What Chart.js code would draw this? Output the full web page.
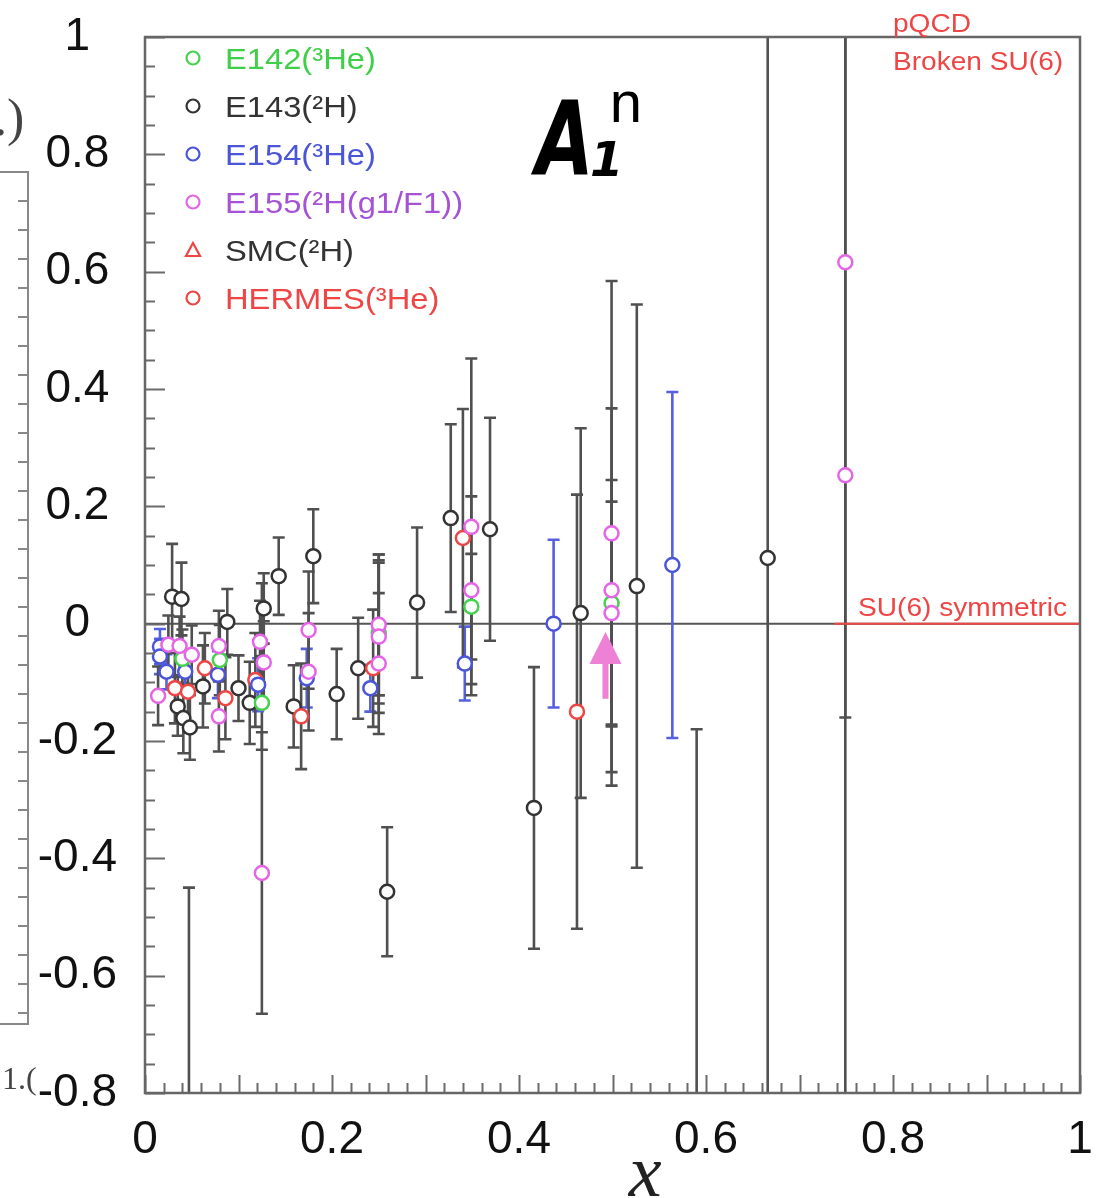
<!DOCTYPE html>
<html>
<head>
<meta charset="utf-8">
<script src="https://cdn.jsdelivr.net/npm/chart.js@4.4.1/dist/chart.umd.min.js"></script>
<style>
  html, body { margin: 0; padding: 0; background: #fff; }
  #wrap { position: relative; width: 1100px; height: 1198px; overflow: hidden; }
  #a1n { position: absolute; left: 0; top: 0; }
  /* neighbouring panel edge on the left */
  .side-box {
    position: absolute; left: -3px; top: 171px; width: 28px; height: 850px;
    border: 2px solid #888;
    background: repeating-linear-gradient(to bottom, transparent 0 27px, #888 27px 29px) right top / 9px 100% no-repeat;
  }
  .side-text { position: absolute; font-family: "Liberation Serif", serif; color: #444; }
</style>
</head>
<body>
<div id="wrap">
  <canvas id="a1n" width="1100" height="1198"></canvas>
  <div class="side-box"></div>
  <div class="side-text" style="left:-6px; top:88px; font-size:52px;">.)</div>
  <div class="side-text" style="left:2px; top:1060px; font-size:32px;">1.(</div>
</div>
<script>
// --- Data: A1 neutron world data (x, value, error) ---
const xE142 = [0.040, 0.080, 0.125, 0.250, 0.349, 0.499];
const yE142 = [-0.060, -0.062, -0.135, -0.016, 0.029, 0.035];
const eE142 = [0.050, 0.060, 0.080, 0.120, 0.090, 0.210];

const xE143 = [0.029, 0.039, 0.035, 0.041, 0.048, 0.062, 0.088, 0.100, 0.112, 0.127, 0.143, 0.159,
               0.180, 0.205, 0.228, 0.259, 0.291, 0.327, 0.369, 0.416, 0.466, 0.526, 0.666, 0.047, 0.590];
const yE143 = [0.046, 0.042, -0.141, -0.161, -0.177, -0.107, 0.003, -0.110, -0.135, 0.026, 0.081, -0.141,
               0.115, -0.120, -0.076, -0.457, 0.036, 0.180, 0.161, -0.314, 0.018, 0.064, 0.112, -1.200, -1.200];
const eE143 = [0.090, 0.062, 0.050, 0.060, 0.055, 0.070, 0.056, 0.056, 0.070, 0.060, 0.066, 0.070,
               0.080, 0.077, 0.086, 0.110, 0.128, 0.160, 0.190, 0.240, 0.315, 0.480, 1.300, 0.750, 1.020];

const xE154 = [0.016, 0.016, 0.023, 0.043, 0.078, 0.121, 0.173, 0.241, 0.342, 0.437, 0.564];
const yE154 = [-0.039, -0.056, -0.082, -0.082, -0.087, -0.104, -0.093, -0.110, -0.068, 0.000, 0.100];
const eE154 = [0.030, 0.030, 0.030, 0.035, 0.040, 0.045, 0.050, 0.040, 0.063, 0.143, 0.295];

const xE155 = [0.014, 0.025, 0.037, 0.050, 0.079, 0.079, 0.123, 0.127, 0.125, 0.175, 0.175,
               0.250, 0.250, 0.250, 0.349, 0.349, 0.499, 0.499, 0.499, 0.749, 0.749];
const yE155 = [-0.123, -0.036, -0.038, -0.053, -0.038, -0.158, -0.031, -0.066, -0.425, -0.011, -0.082,
               -0.002, -0.022, -0.068, 0.165, 0.057, 0.154, 0.057, 0.018, 0.616, 0.253];
const eE155 = [0.050, 0.050, 0.050, 0.050, 0.060, 0.060, 0.070, 0.070, 0.240, 0.100, 0.100,
               0.120, 0.130, 0.120, 0.287, 0.160, 0.430, 0.310, 0.190, 0.776, 1.200];

const xSMC = [0.125, 0.250];
const ySMC = [-0.031, -0.002];
const eSMC = [0.100, 0.120];

const xHERMES = [0.032, 0.046, 0.064, 0.086, 0.118, 0.167, 0.244, 0.340, 0.462];
const yHERMES = [-0.110, -0.116, -0.076, -0.127, -0.096, -0.158, -0.076, 0.146, -0.150];
const eHERMES = [0.060, 0.070, 0.060, 0.070, 0.080, 0.090, 0.100, 0.220, 0.370];

// model predictions
const su6X = [0.737, 1.0];
const su6Y = [0, 0];
const pqcdX = [0.85, 1.0];
const pqcdY = [1, 1];

// arrow marking the new measurement region
const arrowX = 0.4925;
const arrowTail = -0.128;
const arrowHead = -0.014;

const xTickValues = [0, 0.2, 0.4, 0.6, 0.8, 1];
const yTickValues = [-0.8, -0.6, -0.4, -0.2, 0, 0.2, 0.4, 0.6, 0.8, 1];

const RED = '#ee4545';
const FONT = '"Liberation Sans", Arial, sans-serif';

function toPoints(xs, ys) {
    return xs.map((x, i) => ({ x: x, y: ys[i] }));
}

function series(label, xs, ys, errs, color, opts) {
    return Object.assign({
        label: label,
        data: toPoints(xs, ys),
        errors: errs,
        errorColor: '#505050',
        borderColor: color,
        backgroundColor: '#fff',
        pointStyle: 'circle',
        pointRadius: 7,
        pointBorderWidth: 2.5,
        showLine: false
    }, opts || {});
}

const datasets = [
    series('E142(³He)', xE142, yE142, eE142, '#46d24e', { legendText: '#3fcf48', order: 2 }),
    series('E143(²H)', xE143, yE143, eE143, '#333', { legendText: '#333', order: 5 }),
    series('E154(³He)', xE154, yE154, eE154, '#4b55d8', { legendText: '#4b55d8', errorColor: '#5560e0', order: 3 }),
    series('E155(²H(g1/F1))', xE155, yE155, eE155, '#e466e6', { legendText: '#a552d6', order: 1 }),
    series('SMC(²H)', xSMC, ySMC, eSMC, RED, { legendText: '#333', pointStyle: 'triangle', pointRadius: 5, order: 6 }),
    series('HERMES(³He)', xHERMES, yHERMES, eHERMES, RED, { legendText: RED, order: 4 }),
    {
        label: 'SU(6) symmetric', data: toPoints(su6X, su6Y), showLine: true,
        borderColor: RED, borderWidth: 2, pointRadius: 0, order: 0
    },
    {
        label: 'pQCD', data: toPoints(pqcdX, pqcdY), showLine: true, clip: false,
        borderColor: RED, borderWidth: 2, pointRadius: 0, order: 0
    }
];

// error bars, zero line and arrow under the markers
const errorBars = {
    id: 'errorBars',
    beforeDatasetsDraw(chart) {
        const { ctx, chartArea: a, scales: { x, y } } = chart;
        ctx.save();
        ctx.beginPath();
        ctx.rect(a.left, a.top, a.width, a.height);
        ctx.clip();

        ctx.strokeStyle = '#555';
        ctx.lineWidth = 2;
        ctx.beginPath();
        ctx.moveTo(a.left, y.getPixelForValue(0));
        ctx.lineTo(a.right, y.getPixelForValue(0));
        ctx.stroke();

        ctx.lineWidth = 2.6;
        chart.data.datasets.forEach(ds => {
            if (!ds.errors) return;
            ctx.strokeStyle = ds.errorColor;
            ds.data.forEach((p, i) => {
                const px = x.getPixelForValue(p.x);
                const lo = y.getPixelForValue(p.y - ds.errors[i]);
                const hi = y.getPixelForValue(p.y + ds.errors[i]);
                ctx.beginPath();
                ctx.moveTo(px, lo); ctx.lineTo(px, hi);
                ctx.moveTo(px - 6, lo); ctx.lineTo(px + 6, lo);
                ctx.moveTo(px - 6, hi); ctx.lineTo(px + 6, hi);
                ctx.stroke();
            });
        });

        // pink arrow
        const ax = x.getPixelForValue(arrowX);
        const tip = y.getPixelForValue(arrowHead);
        const tail = y.getPixelForValue(arrowTail);
        ctx.fillStyle = '#ee80d6';
        ctx.fillRect(ax - 3, tip + 28, 6, tail - tip - 28);
        ctx.beginPath();
        ctx.moveTo(ax, tip);
        ctx.lineTo(ax - 16, tip + 32);
        ctx.lineTo(ax + 16, tip + 32);
        ctx.closePath();
        ctx.fill();
        ctx.restore();
    }
};

// frame with inward ticks, legend and labels
const frameAndText = {
    id: 'frameAndText',
    afterDatasetsDraw(chart) {
        const { ctx, chartArea: a, scales: { x, y } } = chart;
        ctx.save();
        ctx.strokeStyle = '#6a6a6a';
        ctx.lineWidth = 2;
        ctx.beginPath();
        for (let k = 0; k <= 36; k++) {
            const py = Math.round(y.getPixelForValue(-0.8 + k * 0.05)) + 0.5;
            const len = k % 4 === 0 ? 20 : 10;
            ctx.moveTo(a.left, py); ctx.lineTo(a.left + len, py);
        }
        for (let k = 0; k <= 50; k++) {
            const px = Math.round(x.getPixelForValue(k * 0.02)) + 0.5;
            const len = k % 5 === 0 ? 18 : 10;
            ctx.moveTo(px, a.bottom); ctx.lineTo(px, a.bottom - len);
        }
        ctx.stroke();
        ctx.lineWidth = 2.5;
        ctx.strokeStyle = '#666';
        ctx.strokeRect(a.left, a.top, a.width, a.height);
        ctx.restore();
    },
    afterDraw(chart) {
        const { ctx, chartArea: a, scales: { x, y } } = chart;
        ctx.save();

        // legend
        let row = 0;
        chart.data.datasets.forEach(ds => {
            if (!ds.errors) return;
            const cy = a.top + 21 + row * 48;
            const cx = a.left + 48;
            ctx.strokeStyle = ds.borderColor;
            ctx.lineWidth = 2.2;
            ctx.beginPath();
            if (ds.pointStyle === 'triangle') {
                ctx.moveTo(cx, cy - 7); ctx.lineTo(cx - 7, cy + 6); ctx.lineTo(cx + 7, cy + 6); ctx.closePath();
            } else {
                ctx.arc(cx, cy, 6.5, 0, Math.PI * 2);
            }
            ctx.stroke();
            ctx.save();
            ctx.translate(a.left + 80, cy + 11);
            ctx.scale(1.09, 1);
            ctx.font = '30px ' + FONT;
            ctx.fillStyle = ds.legendText;
            ctx.fillText(ds.label, 0, 0);
            ctx.restore();
            row++;
        });

        // model labels
        const txt = (s, vx, vy) => {
            ctx.save();
            ctx.translate(x.getPixelForValue(vx), y.getPixelForValue(vy));
            ctx.scale(1.08, 1);
            ctx.fillText(s, 0, 0);
            ctx.restore();
        };
        ctx.font = '26px ' + FONT;
        ctx.fillStyle = RED;
        txt('pQCD', 0.8, 1.0085);
        txt('Broken SU(6)', 0.8, 0.944);
        txt('SU(6) symmetric', 0.7626, 0.013);

        // A1^n
        ctx.fillStyle = '#000';
        ctx.save();
        ctx.translate(x.getPixelForValue(0.418), y.getPixelForValue(0.765));
        ctx.scale(0.72, 1);
        ctx.font = 'italic bold 104px "DejaVu Sans", sans-serif';
        ctx.fillText('A', 0, 0);
        ctx.restore();
        ctx.font = 'italic bold 48px "DejaVu Sans", sans-serif';
        ctx.fillText('1', x.getPixelForValue(0.476), y.getPixelForValue(0.763));
        ctx.font = '58px ' + FONT;
        ctx.fillText('n', x.getPixelForValue(0.497), y.getPixelForValue(0.855));

        // axis title
        ctx.font = 'italic 74px "Liberation Serif", serif';
        ctx.fillStyle = '#222';
        ctx.textAlign = 'center';
        ctx.fillText('x', x.getPixelForValue(0.535), 1196);
        ctx.restore();
    }
};

const fmt = v => String(Math.round(v * 10) / 10);

const ctx = document.getElementById('a1n').getContext('2d');

new Chart(ctx, {
    type: 'scatter',
    data: { datasets: datasets },
    options: {
        responsive: false,
        animation: false,
        devicePixelRatio: 1,
        layout: { padding: { top: 37, right: 20, left: 0, bottom: 0 } },
        plugins: { legend: { display: false }, tooltip: { enabled: false } },
        scales: {
            x: {
                type: 'linear', min: 0, max: 1,
                afterBuildTicks: s => { s.ticks = xTickValues.map(v => ({ value: v })); },
                afterFit: s => { s.height = 105; s.paddingLeft = 0; s.paddingRight = 0; },
                grid: { display: false },
                border: { display: false },
                ticks: { font: { family: FONT, size: 46 }, color: '#111', padding: 12, maxRotation: 0, callback: fmt }
            },
            y: {
                type: 'linear', min: -0.8, max: 1,
                afterBuildTicks: s => { s.ticks = yTickValues.map(v => ({ value: v })); },
                afterFit: s => { s.width = 145; s.paddingTop = 0; s.paddingBottom = 0; },
                grid: { display: false },
                border: { display: false },
                ticks: { font: { family: FONT, size: 46 }, color: '#111', crossAlign: 'center', padding: 20, callback: fmt }
            }
        }
    },
    plugins: [errorBars, frameAndText]
});
</script>
</body>
</html>
